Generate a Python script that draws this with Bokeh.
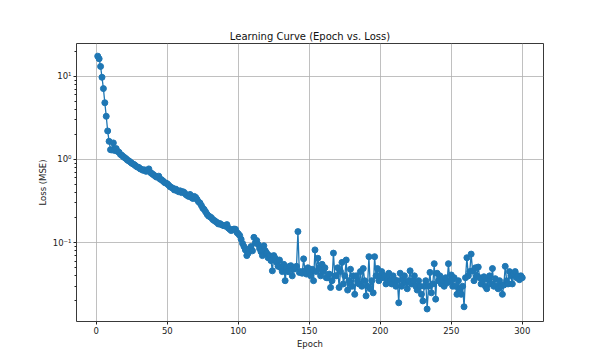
from bokeh.plotting import figure
from bokeh.models import Range1d, FixedTicker, CustomJSTickFormatter
from bokeh.embed import file_html
from bokeh.resources import INLINE

epochs = list(range(1, 301))
loss = [
    17.4, 16.2, 13.1, 9.7, 7.1, 4.8, 3.3, 2.2, 1.65, 1.31,
    1.30, 1.58, 1.28, 1.35, 1.25, 1.22, 1.15, 1.12, 1.08, 1.05,
    1.02, 0.98, 0.96, 0.93, 0.90, 0.88, 0.86, 0.83, 0.81, 0.80,
    0.77, 0.76, 0.74, 0.75, 0.72, 0.74, 0.77, 0.70, 0.68, 0.66,
    0.64, 0.62, 0.61, 0.63, 0.58, 0.57, 0.55, 0.53, 0.52, 0.51,
    0.49, 0.47, 0.46, 0.45, 0.43, 0.44, 0.42, 0.41, 0.42, 0.40,
    0.41, 0.40, 0.38, 0.37, 0.36, 0.38, 0.35, 0.34, 0.36, 0.35,
    0.33, 0.31, 0.30, 0.28, 0.26, 0.25, 0.235, 0.22, 0.21, 0.205,
    0.20, 0.19, 0.185, 0.18, 0.175, 0.168, 0.17, 0.165, 0.162, 0.16,
    0.158, 0.165, 0.15, 0.145, 0.14, 0.143, 0.146, 0.145, 0.133, 0.128,
    0.122, 0.11, 0.098, 0.09, 0.082, 0.07, 0.075, 0.085, 0.09, 0.08,
    0.116, 0.10, 0.106, 0.095, 0.085, 0.078, 0.07, 0.092, 0.08, 0.075,
    0.066, 0.07, 0.061, 0.046, 0.07, 0.065, 0.058, 0.052, 0.062, 0.05,
    0.045, 0.055, 0.035, 0.05, 0.045, 0.052, 0.053, 0.04, 0.048, 0.05,
    0.052, 0.136, 0.044, 0.045, 0.043, 0.064, 0.046, 0.042, 0.05, 0.045,
    0.04, 0.048, 0.035, 0.082, 0.045, 0.065, 0.05, 0.04, 0.055, 0.045,
    0.05, 0.038, 0.038, 0.042, 0.029, 0.035, 0.075, 0.04, 0.040, 0.05,
    0.029, 0.045, 0.058, 0.032, 0.04, 0.062, 0.027, 0.035, 0.048, 0.03,
    0.04, 0.024, 0.04, 0.035, 0.032, 0.045, 0.03, 0.049, 0.035, 0.023,
    0.03, 0.068, 0.028, 0.035, 0.025, 0.068, 0.04, 0.049, 0.035, 0.04,
    0.045, 0.038, 0.04, 0.032, 0.036, 0.043, 0.035, 0.032, 0.04, 0.036,
    0.03, 0.035, 0.019, 0.043, 0.03, 0.036, 0.04, 0.033, 0.028, 0.035,
    0.046, 0.032, 0.035, 0.04, 0.03, 0.027, 0.035, 0.03, 0.024, 0.020,
    0.03, 0.035, 0.016, 0.03, 0.044, 0.025, 0.032, 0.056, 0.021, 0.043,
    0.035, 0.04, 0.032, 0.035, 0.03, 0.038, 0.033, 0.056, 0.035, 0.041,
    0.03, 0.038, 0.03, 0.024, 0.035, 0.028, 0.024, 0.03, 0.017, 0.038,
    0.066, 0.04, 0.045, 0.073, 0.046, 0.035, 0.05, 0.04, 0.051, 0.038,
    0.032, 0.035, 0.039, 0.03, 0.028, 0.036, 0.04, 0.032, 0.049, 0.03,
    0.037, 0.03, 0.028, 0.035, 0.03, 0.024, 0.031, 0.052, 0.035, 0.032,
    0.045, 0.04, 0.032, 0.042, 0.045, 0.038, 0.04, 0.036, 0.040, 0.038,
]

x_ticks = [0, 50, 100, 150, 200, 250, 300]
y_ticks = [0.1, 1, 10]
y_tick_labels = ["10\u207b\u00b9", "10\u2070", "10\u00b9"]
y_minor = [0.02, 0.03, 0.04, 0.05, 0.06, 0.07, 0.08, 0.09,
           0.2, 0.3, 0.4, 0.5, 0.6, 0.7, 0.8, 0.9,
           2, 3, 4, 5, 6, 7, 8, 9, 20]

FONT = "DejaVu Sans"
BLUE = "#1f77b4"

p = figure(
    frame_width=467, frame_height=278,
    x_range=Range1d(-13.95, 314.95),
    y_range=Range1d(0.01132, 24.7),
    y_axis_type="log",
    output_backend="svg", toolbar_location=None,
    title="Learning Curve (Epoch vs. Loss)",
)
p.min_border_left = 76
p.min_border_top = 43
p.min_border_right = 50
p.min_border_bottom = 31
p.background_fill_color = "white"
p.border_fill_color = "white"
p.outline_line_color = "#222222"
p.outline_line_width = 0.9

p.title.align = "center"
p.title.text_font = FONT
p.title.text_font_size = "10px"
p.title.text_font_style = "normal"
p.title.text_color = "#111111"
p.title.standoff = 4

p.xaxis.ticker = FixedTicker(ticks=x_ticks)
p.yaxis.ticker = FixedTicker(ticks=y_ticks, minor_ticks=y_minor)
p.yaxis.formatter = CustomJSTickFormatter(
    args=dict(vals=y_ticks, labs=y_tick_labels),
    code="""
for (let i = 0; i < vals.length; i++) {
  if (Math.abs(Math.log10(tick) - Math.log10(vals[i])) < 1e-6) return labs[i];
}
return '';
""")

for ax in (p.xaxis, p.yaxis):
    ax.axis_line_color = None
    ax.major_tick_line_color = "#222222"
    ax.major_tick_out = 3
    ax.major_tick_in = 0
    ax.major_label_text_font = FONT
    ax.major_label_text_font_size = "8.5px"
    ax.major_label_text_color = "#222222"
    ax.axis_label_text_font = FONT
    ax.axis_label_text_font_size = "8.5px"
    ax.axis_label_text_font_style = "normal"
    ax.axis_label_text_color = "#222222"
    ax.major_label_standoff = 2
    ax.axis_label_standoff = 2

p.xaxis.minor_tick_line_color = None
p.yaxis.minor_tick_line_color = "#222222"
p.yaxis.minor_tick_out = 2
p.yaxis.minor_tick_in = 0
p.xaxis.axis_label = "Epoch"
p.yaxis.axis_label = "Loss (MSE)"

p.xgrid.grid_line_color = "#b0b0b0"
p.ygrid.grid_line_color = "#b0b0b0"
p.xgrid.grid_line_width = 0.8
p.ygrid.grid_line_width = 0.8

p.line(epochs, loss, line_color=BLUE, line_width=1.3)
p.scatter(epochs, loss, size=6, fill_color=BLUE, line_color=BLUE)

open("out.html", "w").write(file_html(p, INLINE))
